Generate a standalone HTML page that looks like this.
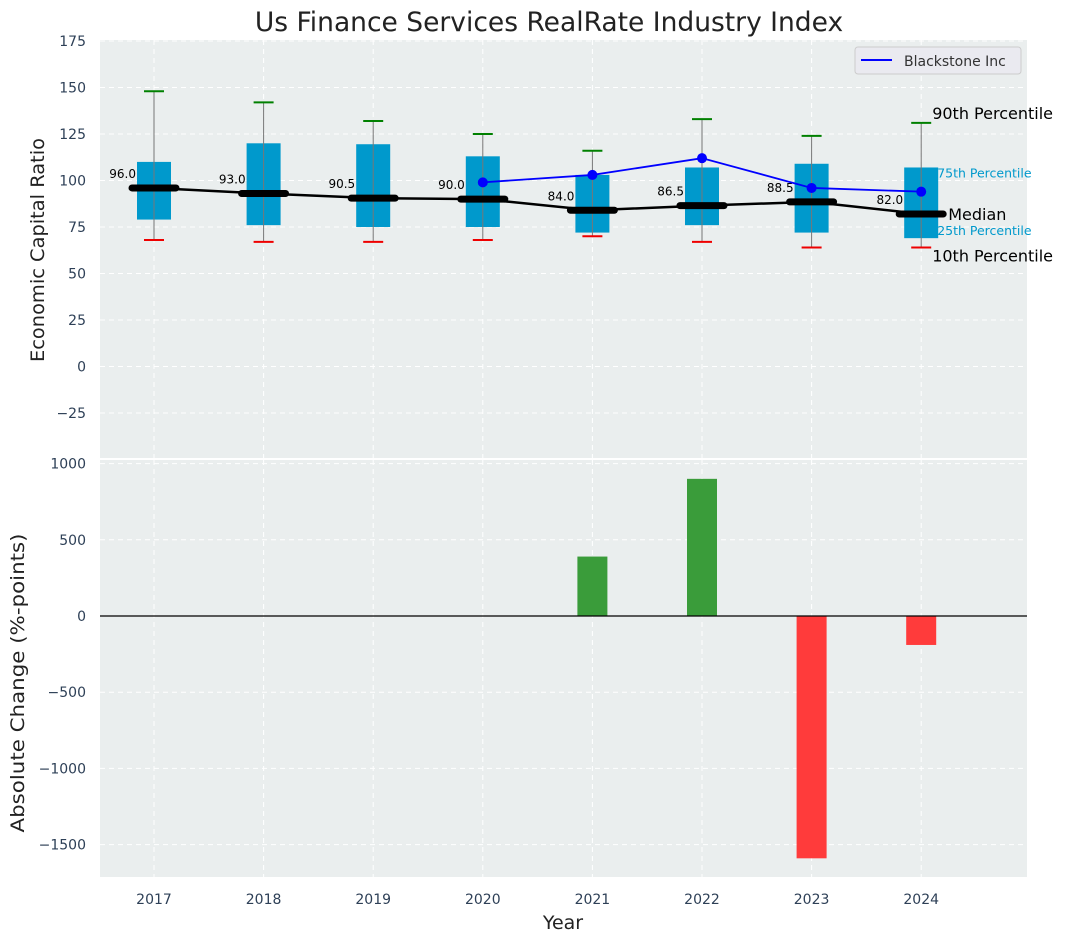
<!DOCTYPE html>
<html><head><meta charset="utf-8"><style>
body{margin:0;background:#fff;}
svg text{font-family:"DejaVu Sans","Liberation Sans",sans-serif;}
</style></head><body>
<svg id="c" width="1067" height="942" xmlns="http://www.w3.org/2000/svg"></svg>
<script>
const years=[2017,2018,2019,2020,2021,2022,2023,2024];
const p10=[68,67,67,68,70,67,64,64];
const q1=[79,76,75,75,72,76,72,69];
const med=[96,93,90.5,90,84,86.5,88.5,82];
const q3=[110,120,119.5,113,103,107,109,107];
const p90=[148,142,132,125,116,133,124,131];
const bxYears=[2020,2021,2022,2023,2024];
const bxVals=[99,103,112,96,94];
const chgYears=[2021,2022,2023,2024];
const chgVals=[390,900,-1590,-190];
const topTicks=[-25,0,25,50,75,100,125,150,175];
const botTicks=[-1500,-1000,-500,0,500,1000];

const svg=document.getElementById('c');
const NS='http://www.w3.org/2000/svg';
function el(t,a,txt){const e=document.createElementNS(NS,t);for(const k in a)e.setAttribute(k,a[k]);if(txt!==undefined)e.textContent=txt;svg.appendChild(e);return e;}
const L=100,R=1027;
const X=y=>154+(y-2017)*109.6;
const Y1=v=>41+(175-v)*1.86;
const Y2=v=>616-v*0.1524;
const T1=40,B1=458,T2=460,B2=877;

let e;
e=el('text',{x:549,y:31,'font-size':26.5,fill:'#222','text-anchor':'middle'},'Us Finance Services RealRate Industry Index');


e=el('rect',{x:L,y:T1,width:R-L,height:B1-T1,fill:'#eaeeee'});
e=el('rect',{x:L,y:T2,width:R-L,height:B2-T2,fill:'#eaeeee'});
years.forEach(y=>{[ [T1,B1],[T2,B2] ].forEach(([a,b])=>el('line',{x1:X(y),x2:X(y),y1:a,y2:b,stroke:'#fff','stroke-dasharray':'5,4','stroke-width':1}));});
topTicks.forEach(v=>{el('line',{x1:L,x2:R,y1:Y1(v),y2:Y1(v),stroke:'#fff','stroke-dasharray':'5,4'});
 e=el('text',{x:L-14,y:Y1(v)+5,'font-size':14,fill:'#2e4057','text-anchor':'end'},v<0?'\u2212'+(-v):v);});
botTicks.forEach(v=>{el('line',{x1:L,x2:R,y1:Y2(v),y2:Y2(v),stroke:'#fff','stroke-dasharray':'5,4'});
 e=el('text',{x:L-14,y:Y2(v)+5,'font-size':14,fill:'#2e4057','text-anchor':'end'},v<0?'\u2212'+(-v):v);});
years.forEach(y=>{e=el('text',{x:X(y),y:904,'font-size':14,fill:'#2e4057','text-anchor':'middle'},y);});
years.forEach((y,i)=>{const x=X(y);
 e=el('rect',{x:x-17,y:Y1(q3[i]),width:34,height:Y1(q1[i])-Y1(q3[i]),fill:'#0099cc'});
 el('line',{x1:x,x2:x,y1:Y1(p90[i]),y2:Y1(p10[i]),stroke:'#777','stroke-width':1});
 el('line',{x1:x-10,x2:x+10,y1:Y1(p90[i]),y2:Y1(p90[i]),stroke:'#008000','stroke-width':2});
 el('line',{x1:x-10,x2:x+10,y1:Y1(p10[i]),y2:Y1(p10[i]),stroke:'#e00','stroke-width':2});
});
e=el('polyline',{points:years.map((y,i)=>X(y)+','+Y1(med[i])).join(' '),fill:'none',stroke:'#000','stroke-width':2.5});
years.forEach((y,i)=>{const x=X(y);
 e=el('line',{x1:x-22,x2:x+22,y1:Y1(med[i]),y2:Y1(med[i]),stroke:'#000','stroke-width':7,'stroke-linecap':'round'});
 el('text',{x:x-18,y:Y1(med[i])-10,'font-size':12,fill:'#000','text-anchor':'end'},med[i].toFixed(1));
});
e=el('polyline',{points:bxYears.map((y,i)=>X(y)+','+Y1(bxVals[i])).join(' '),fill:'none',stroke:'#0000ff','stroke-width':1.8});
bxYears.forEach((y,i)=>{e=el('circle',{cx:X(y),cy:Y1(bxVals[i]),r:5,fill:'#0000ff'});});
const lx=X(2024);const li=7;
el('text',{x:lx+11,y:Y1(p90[li])-4,'font-size':16,fill:'#000'},'90th Percentile');
el('text',{x:lx+16,y:Y1(q3[li])+10,'font-size':12.5,fill:'#0099cc'},'75th Percentile');
el('text',{x:lx+27,y:Y1(med[li])+6,'font-size':16,fill:'#000'},'Median');
el('text',{x:lx+16,y:Y1(q1[li])-3,'font-size':12.5,fill:'#0099cc'},'25th Percentile');
el('text',{x:lx+11,y:Y1(p10[li])+14,'font-size':16,fill:'#000'},'10th Percentile');
e=el('rect',{x:855,y:47,width:166,height:27,rx:3,fill:'#eaeaf0',stroke:'#ccc'});
el('line',{x1:861,x2:892,y1:60,y2:60,stroke:'#0000ff','stroke-width':2});
el('text',{x:904,y:66,'font-size':14,fill:'#333'},'Blackstone Inc');
chgYears.forEach((y,i)=>{const v=chgVals[i];const a=Y2(Math.max(v,0)),b=Y2(Math.min(v,0));
 e=el('rect',{x:X(y)-15,y:a,width:30,height:b-a,fill:v>=0?'#3a9c3a':'#ff3b3b'});});
el('line',{x1:L,x2:R,y1:Y2(0),y2:Y2(0),stroke:'#000','stroke-width':1.2});
e=el('text',{x:44,y:250,'font-size':19,fill:'#222','text-anchor':'middle',textLength:224,lengthAdjust:'spacingAndGlyphs',transform:'rotate(-90 44 250)'},'Economic Capital Ratio');
e=el('text',{x:24,y:683,'font-size':19,fill:'#222','text-anchor':'middle',textLength:299,lengthAdjust:'spacingAndGlyphs',transform:'rotate(-90 24 683)'},'Absolute Change (%-points)');
e=el('text',{x:563,y:929,'font-size':19,fill:'#222','text-anchor':'middle'},'Year');
</script>
</body></html>
